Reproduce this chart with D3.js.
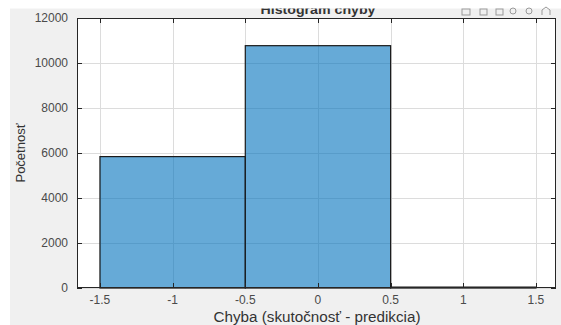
<!DOCTYPE html>
<html><head><meta charset="utf-8">
<script src="https://cdn.jsdelivr.net/npm/d3@7"></script>
<style>
html,body{margin:0;padding:0;background:#fff;}
svg{display:block;font-family:"Liberation Sans",Arial,sans-serif;}
</style></head>
<body><svg id="c" width="561" height="325"></svg>
<script>
const binEdges = [-1.5, -0.5, 0.5, 1.5];
const counts = [5840, 10770, 40];
const xTicks = [-1.5, -1, -0.5, 0, 0.5, 1, 1.5];
const xTickLabels = ["-1.5", "-1", "-0.5", "0", "0.5", "1", "1.5"];
const yTicks = [0, 2000, 4000, 6000, 8000, 10000, 12000];
const title = "Histogram chyby";
const xLabel = "Chyba (skutočnosť - predikcia)";
const yLabel = "Početnosť";

const svg = d3.select("#c");
const L = 77, R = 556, T = 18, B = 288;
const x = d3.scaleLinear().domain([-1.658, 1.638]).range([L, R]);
const y = d3.scaleLinear().domain([0, 12000]).range([B, T]);

// figure background
svg.append("rect").attr("x", 10).attr("y", 8).attr("width", 551).attr("height", 317).attr("fill", "#f0f0f0");

// title (clipped at top)
svg.append("text").attr("x", 318).attr("y", 14).attr("text-anchor", "middle")
  .attr("font-weight", "bold").attr("font-size", 13).attr("fill", "#333")
  .attr("textLength", 115).attr("lengthAdjust", "spacingAndGlyphs").text(title);
svg.append("rect").attr("x", 0).attr("y", 0).attr("width", 561).attr("height", 8.5).attr("fill", "#fff");

// toolbar glyphs
const tb = svg.append("g").attr("fill", "none").attr("stroke", "#999").attr("stroke-width", 1);
tb.append("rect").attr("x", 462).attr("y", 9).attr("width", 8).attr("height", 6);
tb.append("rect").attr("x", 480).attr("y", 9).attr("width", 7).attr("height", 6);
tb.append("rect").attr("x", 496).attr("y", 9).attr("width", 7).attr("height", 6);
tb.append("circle").attr("cx", 513).attr("cy", 11).attr("r", 3);
tb.append("circle").attr("cx", 529).attr("cy", 11).attr("r", 3);
tb.append("path").attr("d", "M542,15 L542,10 L546,7 L550,10 L550,15");

// plot area
svg.append("rect").attr("x", L).attr("y", T).attr("width", R - L).attr("height", B - T).attr("fill", "#fff");

// grid
const g = svg.append("g").attr("stroke", "#dcdcdc").attr("stroke-width", 1);
xTicks.forEach(t => g.append("line").attr("x1", Math.round(x(t)) + 0.5).attr("x2", Math.round(x(t)) + 0.5).attr("y1", T).attr("y2", B));
yTicks.forEach(t => g.append("line").attr("y1", Math.round(y(t)) + 0.5).attr("y2", Math.round(y(t)) + 0.5).attr("x1", L).attr("x2", R));

// bars
const bins = counts.map((c, i) => ({x0: binEdges[i], x1: binEdges[i + 1], c}));
svg.append("g").selectAll("rect").data(bins).join("rect")
  .attr("x", d => x(d.x0)).attr("width", d => x(d.x1) - x(d.x0))
  .attr("y", d => y(d.c)).attr("height", d => y(0) - y(d.c))
  .attr("fill", "#0072bd").attr("fill-opacity", 0.6)
  .attr("stroke", "#1a1a1a").attr("stroke-width", 1.2);

// axes box
svg.append("rect").attr("x", L + 0.5).attr("y", T + 0.5).attr("width", R - L - 1).attr("height", B - T - 1)
  .attr("fill", "none").attr("stroke", "#262626").attr("stroke-width", 1);

// ticks inside
const tk = svg.append("g").attr("stroke", "#262626").attr("stroke-width", 1);
xTicks.forEach(t => {
  const px = Math.round(x(t)) + 0.5;
  tk.append("line").attr("x1", px).attr("x2", px).attr("y1", B).attr("y2", B - 5);
  tk.append("line").attr("x1", px).attr("x2", px).attr("y1", T).attr("y2", T + 5);
});
yTicks.forEach(t => {
  const py = Math.round(y(t)) + 0.5;
  tk.append("line").attr("x1", L).attr("x2", L + 5).attr("y1", py).attr("y2", py);
  tk.append("line").attr("x1", R).attr("x2", R - 5).attr("y1", py).attr("y2", py);
});

// tick labels
svg.append("g").selectAll("text").data(xTicks).join("text")
  .attr("x", d => x(d)).attr("y", B + 16).attr("text-anchor", "middle")
  .attr("font-size", 12).attr("fill", "#4a4a4a").text((d, i) => xTickLabels[i]);
svg.append("g").selectAll("text").data(yTicks).join("text")
  .attr("x", L - 9).attr("y", d => y(d) + 4).attr("text-anchor", "end")
  .attr("font-size", 12).attr("fill", "#4a4a4a").text(d => d);

// axis labels
svg.append("text").attr("x", 317).attr("y", B + 34).attr("text-anchor", "middle")
  .attr("font-size", 14).attr("fill", "#333")
  .attr("textLength", 207).attr("lengthAdjust", "spacingAndGlyphs").text(xLabel);
svg.append("text").attr("transform", `translate(25,${(T + B) / 2}) rotate(-90)`)
  .attr("text-anchor", "middle").attr("font-size", 13).attr("fill", "#333").text(yLabel);
</script></body></html>
